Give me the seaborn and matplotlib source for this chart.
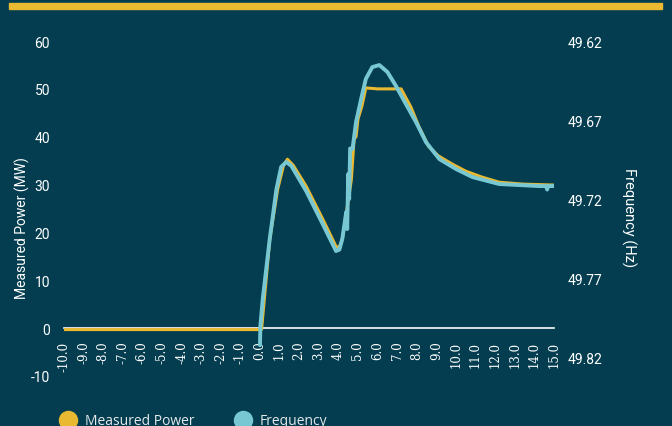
import numpy as np
import pandas as pd
import seaborn as sns
import matplotlib.pyplot as plt
from matplotlib.lines import Line2D
from matplotlib.patches import Rectangle

bg = '#033d4f'
yellow = '#e8b931'
blue = '#78c8d3'

# data
power_t = [-10.0, 0.0, 0.08, 0.5, 0.9, 1.2, 1.4, 1.7, 2.35, 3.2, 3.9, 4.05, 4.2, 4.46, 4.66,
           4.8, 4.9, 5.0, 5.2, 5.4, 6.0, 7.2, 7.7, 8.1, 8.6, 9.1, 9.8, 10.5, 11.3, 12.2, 13.4, 15.0]
power_mw = [-0.3, -0.3, -0.3, 18.6, 29.0, 34.0, 35.3, 34.0, 29.7, 22.8, 16.9, 17.0, 18.6, 25.5, 31.0,
            39.5, 40.0, 43.7, 46.4, 50.2, 50.0, 50.0, 46.2, 42.2, 38.0, 36.0, 34.3, 32.8, 31.6, 30.5, 30.1, 29.9]

freq_t = [0.0, 0.02, 0.14, 0.5, 0.84, 1.08, 1.34, 1.6, 2.36, 3.2, 3.88, 4.05, 4.2, 4.4, 4.45, 4.5,
          4.55, 4.6, 4.72, 4.9, 5.16, 5.4, 5.73, 6.09, 6.5, 6.94, 7.45, 7.96, 8.47, 9.15, 10.0, 10.84,
          12.2, 14.24, 14.6, 14.65, 14.7, 15.0]
freq_hz = [49.8125, 49.8004, 49.7833, 49.745, 49.7137, 49.6997, 49.6966, 49.699, 49.715, 49.7358,
           49.7529, 49.752, 49.7453, 49.7282, 49.739, 49.7042, 49.72, 49.688, 49.6884, 49.6713,
           49.6567, 49.644, 49.6365, 49.6352, 49.6396, 49.6485, 49.66, 49.6713, 49.684, 49.6947,
           49.701, 49.7061, 49.7105, 49.7118, 49.7118, 49.714, 49.7118, 49.7118]

x_ticks = np.arange(-10, 16, 1)
x_labels = [f'{v:.1f}' for v in x_ticks]
mw_ticks = [-10, 0, 10, 20, 30, 40, 50, 60]
hz_ticks = [49.62, 49.67, 49.72, 49.77, 49.82]

sns.set_style('white', {'axes.facecolor': bg, 'figure.facecolor': bg})
plt.rcParams['font.family'] = ['Roboto', 'DejaVu Sans']

fig = plt.figure(figsize=(6.72, 4.27), dpi=100)
ax = fig.add_axes([0.0952, 0.1171, 0.7292, 0.7845])
ax.patch.set_alpha(0)
ax2 = ax.twinx()

sns.lineplot(x=power_t, y=power_mw, ax=ax, color=yellow, lw=2.2, estimator=None, sort=False)
sns.lineplot(x=freq_t, y=freq_hz, ax=ax2, color=blue, lw=2.8, estimator=None, sort=False)

ax.set_xlim(-10, 15)
ax.set_ylim(-10, 60)
ax.set_yticks(mw_ticks)
ax.set_yticklabels([str(v) for v in mw_ticks])
ax.tick_params(axis='y', length=0, pad=10, labelcolor='white', labelsize=10)
for s in ['top', 'right', 'left']:
    ax.spines[s].set_visible(False)
ax.spines['bottom'].set_position(('data', 0))
ax.spines['bottom'].set_color('white')
ax.spines['bottom'].set_linewidth(1.2)
ax.spines['bottom'].set_zorder(0)
ax.set_ylabel('Measured Power (MW)', color='white', fontsize=10)
ax.yaxis.set_label_coords(-0.0696, 0.445)
ax.set_xlabel('')

ax2.set_ylim(49.832, 49.62)
ax2.set_yticks(hz_ticks)
ax2.set_yticklabels([f'{v:.2f}' for v in hz_ticks])
ax2.tick_params(axis='y', length=0, pad=10, labelcolor='white', labelsize=10)
for s in ax2.spines.values():
    s.set_visible(False)
ax2.set_ylabel('Frequency (Hz)', color='white', fontsize=10.5, rotation=270)
ax2.yaxis.set_label_coords(1.169, 0.475)

# top accent bar
fig.patches.append(Rectangle((9 / 672, 1 - 10 / 427), 653 / 672, 6 / 427,
                             transform=fig.transFigure, color=yellow, zorder=5))

handles = [Line2D([], [], marker='o', ls='', markersize=13, color=yellow),
           Line2D([], [], marker='o', ls='', markersize=13, color=blue)]
fig.legend(handles, ['Measured Power', 'Frequency'], loc='center left',
           bbox_to_anchor=(42 / 672, 5 / 427), frameon=False, ncol=2,
           handletextpad=0.2, columnspacing=2.5, labelcolor='#e4eaec',
           prop={'family': 'Open Sans', 'size': 10})

# x tick labels last, after everything that could rebuild the ticks
fig.canvas.draw()
ax.set_xticks(x_ticks)
ax.set_xticklabels(x_labels, rotation=90, color='white', fontsize=8.5,
                   fontfamily='DejaVu Serif')
ax.tick_params(axis='x', length=0, pad=9)

fig.savefig('out.png', dpi=100, facecolor=bg)
